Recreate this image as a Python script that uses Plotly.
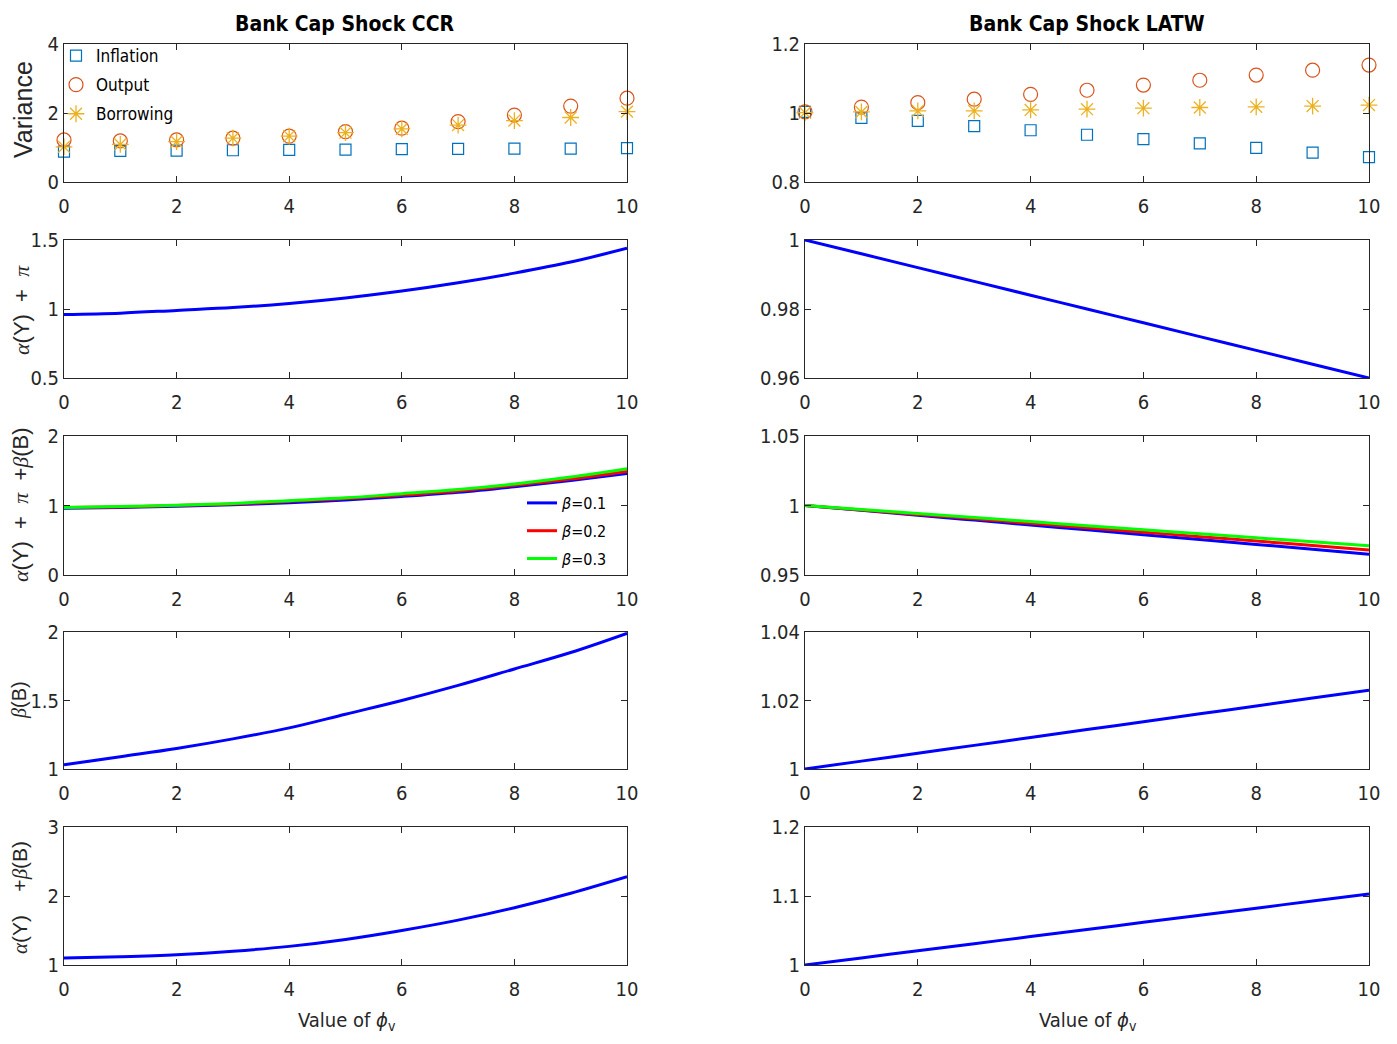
import plotly.graph_objects as go

phi = [0, 1, 2, 3, 4, 5, 6, 7, 8, 9, 10]

# Row 1: variances
ccr_inflation = [0.88, 0.90, 0.91, 0.92, 0.93, 0.94, 0.95, 0.96, 0.97, 0.97, 0.98]
ccr_output = [1.22, 1.19, 1.22, 1.27, 1.33, 1.46, 1.56, 1.75, 1.94, 2.20, 2.43]
ccr_borrowing = [1.02, 1.09, 1.17, 1.27, 1.33, 1.43, 1.54, 1.65, 1.78, 1.87, 2.04]
latw_inflation = [1.003, 0.986, 0.977, 0.962, 0.950, 0.937, 0.924, 0.912, 0.899, 0.885, 0.872]
latw_output = [1.003, 1.017, 1.030, 1.040, 1.054, 1.066, 1.081, 1.095, 1.110, 1.124, 1.139]
latw_borrowing = [1.001, 1.003, 1.006, 1.006, 1.009, 1.011, 1.014, 1.016, 1.018, 1.020, 1.023]

# Row 2: alpha(Y) + pi
ccr_ay_pi = [0.96, 0.97, 0.99, 1.01, 1.04, 1.08, 1.13, 1.19, 1.26, 1.34, 1.44]
latw_ay_pi = [1.000, 0.996, 0.992, 0.988, 0.984, 0.980, 0.976, 0.972, 0.968, 0.964, 0.960]

# Row 3: alpha(Y) + pi + beta(B)
ccr_b01 = [0.96, 0.97, 0.99, 1.01, 1.04, 1.08, 1.13, 1.19, 1.27, 1.36, 1.46]
ccr_b02 = [0.97, 0.98, 1.00, 1.02, 1.06, 1.10, 1.15, 1.21, 1.29, 1.38, 1.49]
ccr_b03 = [0.97, 0.985, 1.005, 1.03, 1.07, 1.11, 1.17, 1.23, 1.31, 1.41, 1.53]
latw_b01 = [1.000, 0.9965, 0.993, 0.9895, 0.986, 0.9825, 0.979, 0.9755, 0.972, 0.9685, 0.965]
latw_b02 = [1.000, 0.9968, 0.9936, 0.9904, 0.9872, 0.984, 0.9808, 0.9776, 0.9744, 0.9712, 0.968]
latw_b03 = [1.000, 0.9971, 0.9942, 0.9913, 0.9884, 0.9855, 0.9826, 0.9797, 0.9768, 0.9739, 0.971]

# Row 4: beta(B)
ccr_bb = [1.03, 1.09, 1.15, 1.22, 1.30, 1.40, 1.50, 1.61, 1.73, 1.85, 1.99]
latw_bb = [1.000, 1.0023, 1.0046, 1.0069, 1.0092, 1.0115, 1.0138, 1.0161, 1.0184, 1.0207, 1.023]

# Row 5: alpha(Y) + beta(B)
ccr_ay_bb = [1.10, 1.12, 1.15, 1.20, 1.27, 1.37, 1.50, 1.65, 1.83, 2.04, 2.28]
latw_ay_bb = [1.000, 1.0103, 1.0206, 1.0309, 1.0412, 1.0515, 1.0618, 1.0721, 1.0824, 1.0927, 1.103]

x_ticks = [0, 2, 4, 6, 8, 10]
y_ticks = [
    ([0, 2, 4], ["0", "2", "4"], [0, 4]),
    ([0.8, 1.0, 1.2], ["0.8", "1", "1.2"], [0.8, 1.2]),
    ([0.5, 1.0, 1.5], ["0.5", "1", "1.5"], [0.5, 1.5]),
    ([0.96, 0.98, 1.0], ["0.96", "0.98", "1"], [0.96, 1.0]),
    ([0, 1, 2], ["0", "1", "2"], [0, 2]),
    ([0.95, 1.0, 1.05], ["0.95", "1", "1.05"], [0.95, 1.05]),
    ([1, 1.5, 2], ["1", "1.5", "2"], [1, 2]),
    ([1, 1.02, 1.04], ["1", "1.02", "1.04"], [1, 1.04]),
    ([1, 2, 3], ["1", "2", "3"], [1, 3]),
    ([1, 1.1, 1.2], ["1", "1.1", "1.2"], [1, 1.2]),
]

OFF = 8  # page body margin
W, H = 1397 - 2 * OFF, 1044 - OFF
col_px = [(64, 627), (805, 1369)]
row_px = [(44, 182), (240, 378), (436, 575), (632, 769), (827, 965)]

def px(xp):
    return (xp - OFF) / W

def py(yp):
    return 1 - (yp - OFF) / H

BLUE_M = "#0072BD"
ORANGE = "#D95319"
YELLOW = "#EDB120"
NARROW = "DejaVu Sans Condensed, Liberation Sans"
SANS = "Liberation Sans, Arial, Helvetica"
SERIF = "Liberation Serif, DejaVu Serif"
AXC = "#262626"

fig = go.Figure()

def ax(r, c):
    i = r * 2 + c + 1
    return ("x" if i == 1 else f"x{i}"), ("y" if i == 1 else f"y{i}")

# Row 1 scatter
for c, (inf, out, bor) in enumerate([(ccr_inflation, ccr_output, ccr_borrowing),
                                      (latw_inflation, latw_output, latw_borrowing)]):
    xa, ya = ax(0, c)
    fig.add_trace(go.Scatter(x=phi, y=inf, mode="markers", name="Inflation", xaxis=xa, yaxis=ya,
                             legendgroup="inf", cliponaxis=False,
                             marker=dict(symbol="square-open", size=11, color=BLUE_M, line=dict(width=1.2)),
                             showlegend=(c == 0), legend="legend"))
    fig.add_trace(go.Scatter(x=phi, y=out, mode="markers", name="Output", xaxis=xa, yaxis=ya,
                             legendgroup="out", cliponaxis=False,
                             marker=dict(symbol="circle-open", size=14, color=ORANGE, line=dict(width=1.2)),
                             showlegend=(c == 0), legend="legend"))
    fig.add_trace(go.Scatter(x=phi, y=bor, mode="markers", name="Borrowing", xaxis=xa, yaxis=ya,
                             legendgroup="bor", cliponaxis=False,
                             marker=dict(symbol="asterisk-open", size=14, color=YELLOW, line=dict(width=1.3, color=YELLOW)),
                             showlegend=(c == 0), legend="legend"))

# Single line rows
for r, (lv, rv) in [(1, (ccr_ay_pi, latw_ay_pi)), (3, (ccr_bb, latw_bb)), (4, (ccr_ay_bb, latw_ay_bb))]:
    for c, vals in enumerate([lv, rv]):
        xa, ya = ax(r, c)
        fig.add_trace(go.Scatter(x=phi, y=vals, mode="lines", xaxis=xa, yaxis=ya, cliponaxis=False,
                                 line=dict(color="#0000FF", width=3, shape="spline"), showlegend=False))

# Row 3 beta lines
for c, series in enumerate([(ccr_b01, ccr_b02, ccr_b03), (latw_b01, latw_b02, latw_b03)]):
    xa, ya = ax(2, c)
    for k, (vals, col, nm) in enumerate(zip(series, ["#0000FF", "#FF0000", "#00FF00"],
                                            ["<i>β</i>=0.1", "<i>β</i>=0.2", "<i>β</i>=0.3"])):
        fig.add_trace(go.Scatter(x=phi, y=vals, mode="lines", xaxis=xa, yaxis=ya, name=nm,
                                 legendgroup=f"b{k}", cliponaxis=False,
                                 line=dict(color=col, width=3, shape="spline"),
                                 showlegend=(c == 0), legend="legend2"))

layout = dict(
    width=W, height=H,
    margin=dict(l=0, r=0, t=0, b=0),
    paper_bgcolor="white", plot_bgcolor="white",
    font=dict(family=NARROW, size=20, color=AXC),
)

for r in range(5):
    for c in range(2):
        i = r * 2 + c + 1
        x0, x1 = col_px[c]
        y0, y1 = row_px[r]
        yt, ytt, yr = y_ticks[i - 1]
        xname = "xaxis" if i == 1 else f"xaxis{i}"
        yname = "yaxis" if i == 1 else f"yaxis{i}"
        layout[xname] = dict(
            domain=[px(x0), px(x1)], anchor=("y" if i == 1 else f"y{i}"),
            range=[0, 10], tickvals=x_ticks, ticktext=[str(v) for v in x_ticks],
            ticks="inside", ticklen=6, tickwidth=1, tickcolor=AXC,
            showline=True, linecolor=AXC, linewidth=1, mirror="allticks",
            showgrid=False, zeroline=False, automargin=False, ticklabelstandoff=6,
            tickfont=dict(family=NARROW, size=20, color=AXC),
        )
        layout[yname] = dict(
            domain=[py(y1), py(y0)], anchor=("x" if i == 1 else f"x{i}"),
            range=yr, tickvals=yt, ticktext=ytt,
            ticks="inside", ticklen=6, tickwidth=1, tickcolor=AXC,
            showline=True, linecolor=AXC, linewidth=1, mirror="allticks",
            showgrid=False, zeroline=False, automargin=False,
            tickfont=dict(family=NARROW, size=20, color=AXC),
        )

layout["legend"] = dict(
    x=px(56), y=py(38), xanchor="left", yanchor="top",
    bgcolor="rgba(255,255,255,0)", borderwidth=0,
    font=dict(family=NARROW, size=17, color="#000000"),
    tracegroupgap=4, traceorder="grouped", itemsizing="trace",
)
layout["legend2"] = dict(
    x=px(522), y=py(486), xanchor="left", yanchor="top",
    bgcolor="rgba(255,255,255,0)", borderwidth=0,
    font=dict(family=NARROW, size=16, color="#000000"),
    tracegroupgap=4, traceorder="grouped",
)

annotations = [
    dict(text="<b>Bank Cap Shock CCR</b>", x=px(345), y=py(24), xref="paper", yref="paper",
         xanchor="center", yanchor="middle",
         showarrow=False, font=dict(family=NARROW, size=21, color="#000000")),
    dict(text="<b>Bank Cap Shock LATW</b>", x=px(1087), y=py(24), xref="paper", yref="paper",
         xanchor="center", yanchor="middle",
         showarrow=False, font=dict(family=NARROW, size=21, color="#000000")),
    dict(text="Value of <i>ϕ</i><sub>v</sub>", x=px(347), y=py(1021), xref="paper", yref="paper",
         xanchor="center", yanchor="middle",
         showarrow=False, font=dict(family=NARROW, size=20, color=AXC)),
    dict(text="Value of <i>ϕ</i><sub>v</sub>", x=px(1088), y=py(1021), xref="paper", yref="paper",
         xanchor="center", yanchor="middle",
         showarrow=False, font=dict(family=NARROW, size=20, color=AXC)),
]

def g(ch):
    return f'<span style="font-family:{SERIF}"><i>{ch}</i></span>'

ylabels = [
    ("Variance", 110, 23, 25),
    (f"{g('α')}(Y)  +  {g('π')}", 310, 21, 22),
    (f"{g('α')}(Y)  +  {g('π')}  +{g('β')}(B)", 505, 20, 22),
    (f"{g('β')}(B)", 700, 19, 20),
    (f"{g('α')}(Y)    +{g('β')}(B)", 898, 20, 21),
]
for txt, yc, xc, fs in ylabels:
    annotations.append(dict(text=txt, x=px(xc), y=py(yc), xref="paper", yref="paper",
                            xanchor="center", yanchor="middle",
                            showarrow=False, textangle=-90,
                            font=dict(family=SANS, size=fs, color=AXC)))

layout["annotations"] = annotations
fig.update_layout(**layout)
fig.write_html("out.html")
